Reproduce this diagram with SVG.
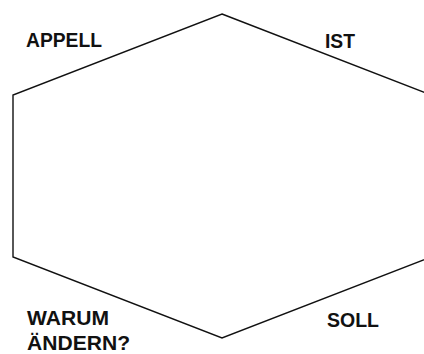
<svg xmlns="http://www.w3.org/2000/svg" width="424" height="354" viewBox="0 0 424 354">
<style>
.lbl{font-family:"Liberation Sans",Arial,sans-serif;font-weight:bold;font-size:20.5px;fill:#111}
.hex{fill:none;stroke:#111;stroke-width:1.4;stroke-linejoin:miter}
</style>
<rect width="424" height="354" fill="#fff"/>
<g id="hexagon">
<polygon class="hex" points="222,14 431,95 431,257 222,338 13,257 13,95"/>
</g>
<g id="appell"><text class="lbl" x="26" y="47" textLength="76" lengthAdjust="spacingAndGlyphs">APPELL</text></g>
<g id="ist"><text class="lbl" x="325" y="48" textLength="30" lengthAdjust="spacingAndGlyphs">IST</text></g>
<g id="warum"><text class="lbl" x="27" y="325" textLength="82" lengthAdjust="spacingAndGlyphs">WARUM</text><text class="lbl" x="27" y="350" textLength="103" lengthAdjust="spacingAndGlyphs">ÄNDERN?</text></g>
<g id="soll"><text class="lbl" x="327" y="327" textLength="52" lengthAdjust="spacingAndGlyphs">SOLL</text></g>
</svg>
